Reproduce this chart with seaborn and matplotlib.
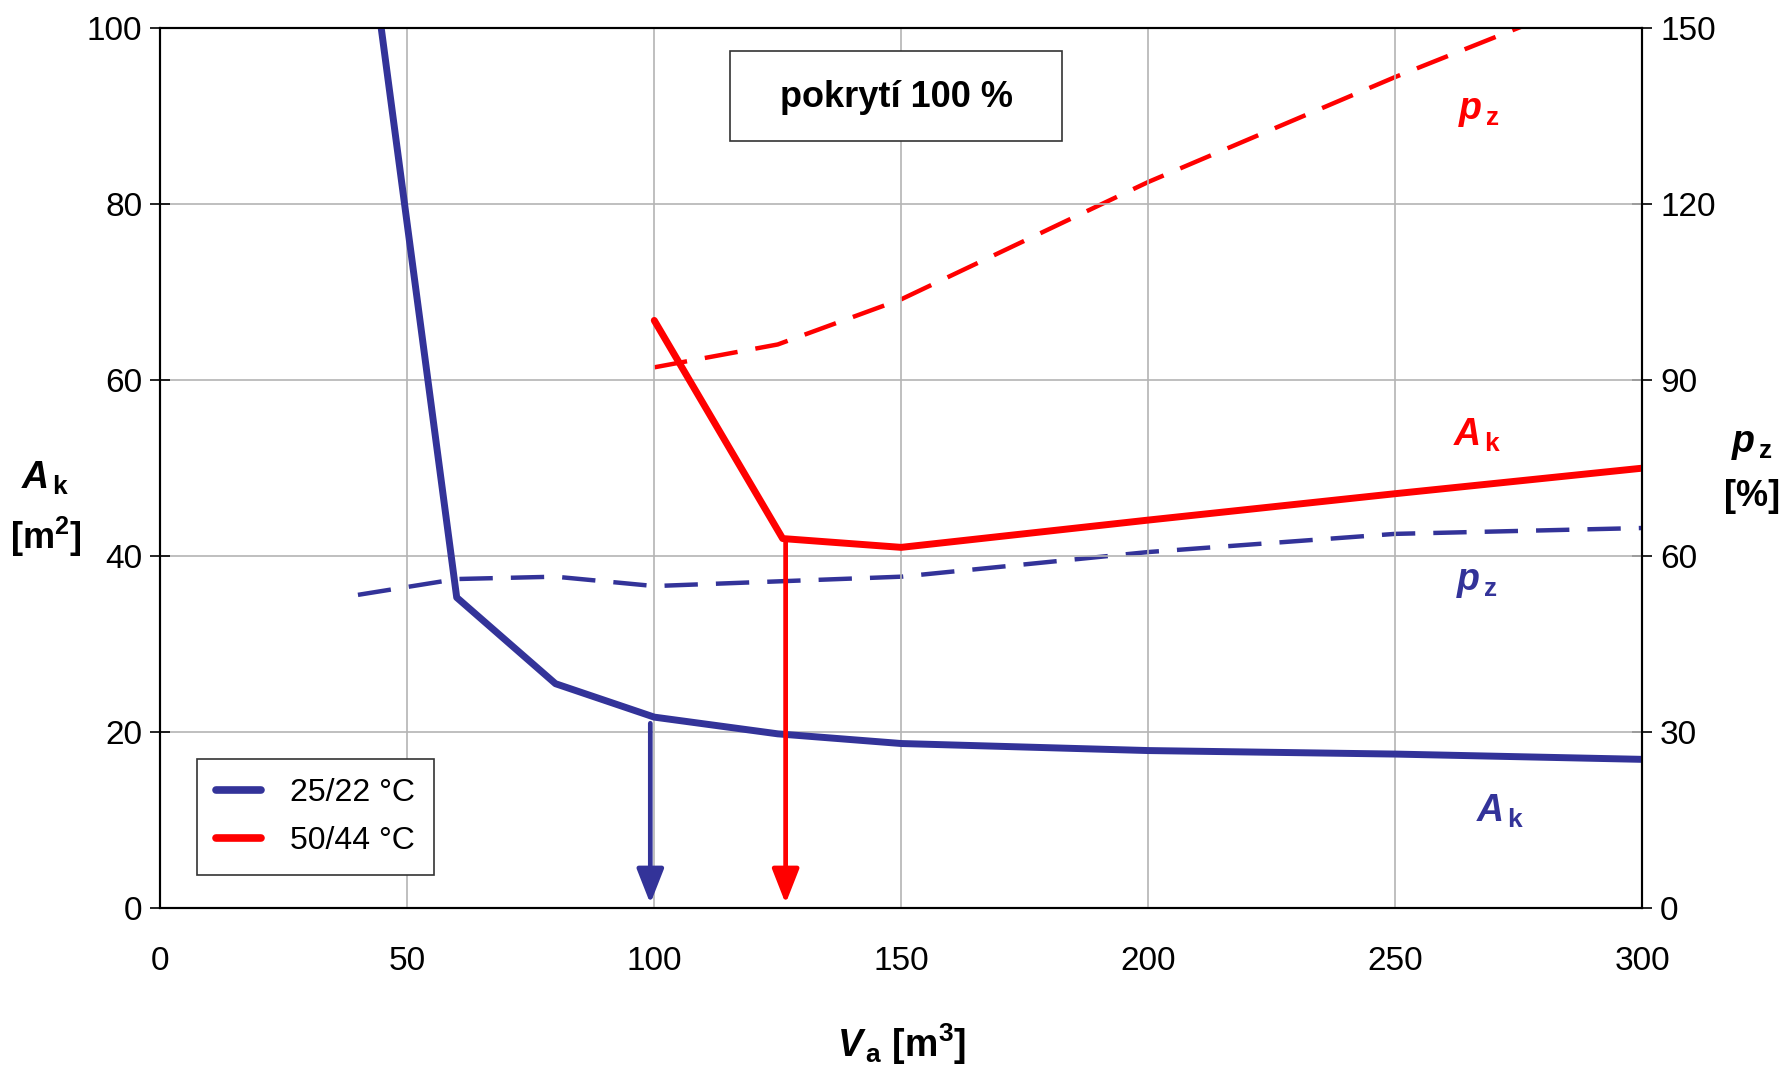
import matplotlib
matplotlib.use("Agg")
import matplotlib.pyplot as plt
from matplotlib.lines import Line2D
from matplotlib.patches import Rectangle
import seaborn as sns
import pandas as pd

# ---- data ----
va_blue = [40, 60, 80, 100, 125, 150, 200, 250, 300]
ak_blue = [120.0, 35.3, 25.5, 21.7, 19.8, 18.7, 17.9, 17.5, 16.9]
pz_blue = [53.4, 56.1, 56.5, 54.9, 55.7, 56.5, 60.7, 63.8, 64.8]

va_red = [100, 126, 150, 200, 250, 300]
ak_red = [66.8, 42.0, 41.0, 44.1, 47.1, 50.0]
va_red_pz = [100, 125, 150, 200, 250, 300]
pz_red = [92.2, 96.1, 103.8, 123.8, 141.7, 158.5]

arrow_blue = (99.2, 21.0)
arrow_red = (126.6, 42.0)

x_ticks = [0, 50, 100, 150, 200, 250, 300]
y_left_ticks = [0, 20, 40, 60, 80, 100]
y_right_ticks = [0, 30, 60, 90, 120, 150]
legend_labels = ["25/22 °C", "50/44 °C"]
box_text = "pokrytí 100 %"

BLUE = "#333399"
RED = "#ff0000"

sns.set_style("white")
plt.rcParams["font.family"] = ["Liberation Sans", "DejaVu Sans"]
plt.rcParams["mathtext.fontset"] = "custom"
plt.rcParams["mathtext.rm"] = "Liberation Sans:bold"
plt.rcParams["mathtext.it"] = "Liberation Sans:bold:italic"
plt.rcParams["mathtext.bf"] = "Liberation Sans:bold"
plt.rcParams["lines.scale_dashes"] = False
for k in ("text.color", "axes.labelcolor", "xtick.color", "ytick.color"):
    plt.rcParams[k] = "black"

fig = plt.figure(figsize=(17.84, 10.67), dpi=100)
ax = fig.add_axes([160.4 / 1784, 1 - 908 / 1067, (1642 - 160.4) / 1784, (908 - 28.4) / 1067])
ax2 = ax.twinx()

df_b = pd.DataFrame({"Va": va_blue, "Ak": ak_blue, "pz": pz_blue})
df_r = pd.DataFrame({"Va": va_red, "Ak": ak_red})
df_rp = pd.DataFrame({"Va": va_red_pz, "pz": pz_red})

sns.lineplot(data=df_b, x="Va", y="Ak", ax=ax, color=BLUE, lw=5, sort=False, legend=False)
sns.lineplot(data=df_r, x="Va", y="Ak", ax=ax, color=RED, lw=5, sort=False, legend=False)
sns.lineplot(data=df_b, x="Va", y="pz", ax=ax2, color=BLUE, lw=3.2, sort=False, legend=False,
             linestyle=(0, (24, 13)))
sns.lineplot(data=df_rp, x="Va", y="pz", ax=ax2, color=RED, lw=3.2, sort=False, legend=False,
             linestyle=(0, (24, 13)))

ax.set_xlim(0, 300)
ax.set_ylim(0, 100)
ax2.set_ylim(0, 150)
ax.set_xticks(x_ticks)
ax.set_yticks(y_left_ticks)
ax2.set_yticks(y_right_ticks)
ax.set_xlabel("")
ax.set_ylabel("")
ax2.set_ylabel("")

ax.grid(True, color="#b4b4b4", lw=1.2)
ax.set_axisbelow(True)
for a in (ax, ax2):
    for s in a.spines.values():
        s.set_color("black")
        s.set_linewidth(1.5)
ax.tick_params(axis="both", direction="inout", length=14, width=1.2, labelsize=24, pad=6)
ax2.tick_params(axis="y", direction="inout", length=14, width=1.2, labelsize=24, pad=6)
ax.tick_params(axis="x", pad=20)

# arrows
for (xa, ya), col in ((arrow_blue, BLUE), (arrow_red, RED)):
    ax.annotate("", xy=(xa, 0.5), xytext=(xa, ya),
                arrowprops=dict(arrowstyle="-|>,head_length=1.4,head_width=0.55",
                                color=col, lw=3.4, shrinkA=0, shrinkB=0, mutation_scale=15))

# box text
ax.add_patch(Rectangle((115.4, 87.2), 67.1, 10.2, fc="white", ec="#333333", lw=1.2, zorder=5))
ax.text(149.0, 92.1, box_text, ha="center", va="center", fontsize=26, fontweight="bold", zorder=6)

# curve annotations
ax.text(267, 90.6, r"$p_{\,\mathrm{z}}$", color=RED, ha="center", va="center", fontsize=27)
ax.text(266.6, 53.7, r"$A_{\,\mathrm{k}}$", color=RED, ha="center", va="center", fontsize=27)
ax.text(266.6, 37.1, r"$p_{\,\mathrm{z}}$", color=BLUE, ha="center", va="center", fontsize=27)
ax.text(271.2, 11.0, r"$A_{\,\mathrm{k}}$", color=BLUE, ha="center", va="center", fontsize=27)

# axis labels
fig.text(45.5 / 1784, 1 - 478 / 1067, r"$A_{\,\mathrm{k}}$", ha="center", va="center", fontsize=27)
fig.text(45.5 / 1784, 1 - 537 / 1067, r"[m$^{\mathrm{2}}$]", ha="center", va="center", fontsize=26,
         fontweight="bold")
fig.text(1752 / 1784, 1 - 444 / 1067, r"$p_{\,\mathrm{z}}$", ha="center", va="center", fontsize=27)
fig.text(1752 / 1784, 1 - 497 / 1067, "[%]", ha="center", va="center", fontsize=26, fontweight="bold")
fig.text(902 / 1784, 1 - 1044 / 1067, r"$V_{\,\mathrm{a}}$ [m$^{\mathrm{3}}$]", ha="center", va="center",
         fontsize=27, fontweight="bold")

handles = [Line2D([], [], color=BLUE, lw=5.5), Line2D([], [], color=RED, lw=5.5)]
leg = ax.legend(handles, legend_labels, loc="lower left", bbox_to_anchor=(0.0247, 0.0375),
                borderaxespad=0, fontsize=23, handlelength=1.4, handletextpad=0.9,
                fancybox=False, edgecolor="#333333", framealpha=1, borderpad=0.6,
                labelspacing=0.55)
leg.get_frame().set_linewidth(1.2)
leg.set_zorder(10)
ax.set_zorder(ax2.get_zorder() + 1)
ax.patch.set_visible(False)

fig.savefig("out.png", dpi=100)
